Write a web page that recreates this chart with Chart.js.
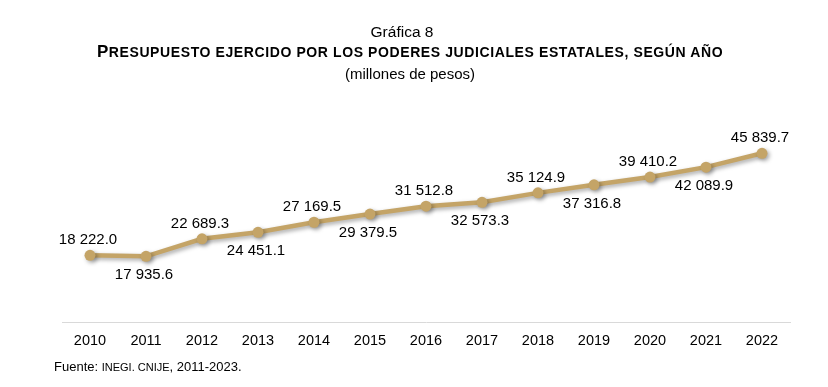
<!DOCTYPE html>
<html>
<head>
<meta charset="utf-8">
<script src="https://cdn.jsdelivr.net/npm/chart.js@4/dist/chart.umd.min.js"></script>
<style>
  html, body { margin: 0; padding: 0; background: #fff; }
  body { width: 828px; height: 387px; position: relative; overflow: hidden; font-family: "Liberation Sans", Arial, sans-serif; color: #000; }
  #wrap { position: absolute; left: 0; top: 0; width: 828px; height: 387px; }
  .t { position: absolute; left: 0; width: 820px; text-align: center; white-space: nowrap; }
  #t1 { top: 23px; font-size: 15.5px; width: 804px; }
  #t2 { top: 42px; font-weight: bold; letter-spacing: 0.6px; }
  #t2 .big { font-size: 17px; }
  #t2 .sm { font-size: 14px; }
  #t3 { top: 65px; font-size: 15px; }
  #foot { position: absolute; left: 54px; top: 359px; font-size: 13px; white-space: nowrap; }
  #foot .sm { font-size: 11px; }
</style>
</head>
<body>
<div id="wrap"><canvas id="c" width="828" height="387"></canvas></div>
<div class="t" id="t1">Gráfica 8</div>
<div class="t" id="t2"><span class="big">P</span><span class="sm">RESUPUESTO EJERCIDO POR LOS PODERES JUDICIALES ESTATALES, SEGÚN AÑO</span></div>
<div class="t" id="t3">(millones de pesos)</div>
<div id="foot">Fuente: <span class="sm">INEGI. CNIJE</span>, 2011-2023.</div>
<script>
const years = ["2010","2011","2012","2013","2014","2015","2016","2017","2018","2019","2020","2021","2022"];
const budget = [18222.0, 17935.6, 22689.3, 24451.1, 27169.5, 29379.5, 31512.8, 32573.3, 35124.9, 37316.8, 39410.2, 42089.9, 45839.7];
const valueLabels = ["18 222.0","17 935.6","22 689.3","24 451.1","27 169.5","29 379.5","31 512.8","32 573.3","35 124.9","37 316.8","39 410.2","42 089.9","45 839.7"];

const LINE_COLOR = "#C4A467";

const shadowPlugin = {
  id: 'shadow',
  beforeDatasetDraw(chart) {
    const ctx = chart.ctx;
    ctx.save();
    ctx.shadowColor = 'rgba(0,0,0,0.35)';
    ctx.shadowBlur = 4;
    ctx.shadowOffsetX = 2;
    ctx.shadowOffsetY = 2;
  },
  afterDatasetDraw(chart) {
    chart.ctx.restore();
  }
};

const labelPlugin = {
  id: 'vlabels',
  afterDatasetsDraw(chart) {
    const ctx = chart.ctx;
    const meta = chart.getDatasetMeta(0);
    ctx.save();
    ctx.font = '15px "Liberation Sans", Arial, sans-serif';
    ctx.fillStyle = '#000';
    ctx.textAlign = 'center';
    ctx.textBaseline = 'middle';
    meta.data.forEach((pt, i) => {
      const above = i % 2 === 0;
      const y = above ? pt.y - 15 : pt.y + 19;
      ctx.fillText(valueLabels[i], pt.x - 2, y);
    });
    ctx.restore();
  }
};

new Chart(document.getElementById('c'), {
  type: 'line',
  data: {
    labels: years,
    datasets: [{
      data: budget,
      borderColor: LINE_COLOR,
      backgroundColor: LINE_COLOR,
      borderWidth: 4.5,
      pointRadius: 5.5,
      pointBackgroundColor: LINE_COLOR,
      pointBorderColor: LINE_COLOR,
      pointBorderWidth: 0,
      tension: 0
    }]
  },
  options: {
    responsive: false,
    animation: false,
    devicePixelRatio: 1,
    layout: { padding: { left: 62, right: 38, top: 101, bottom: 27 } },
    plugins: { legend: { display: false }, tooltip: { enabled: false }, title: { display: false } },
    scales: {
      x: {
        offset: true,
        grid: { display: false, drawTicks: false },
        border: { display: true, color: '#D9D9D9', width: 1 },
        ticks: { color: '#000', padding: 10, font: { family: '"Liberation Sans", Arial, sans-serif', size: 14.5 }, maxRotation: 0, autoSkip: false }
      },
      y: {
        display: false,
        min: 0,
        max: 60000
      }
    }
  },
  plugins: [shadowPlugin, labelPlugin]
});
</script>
</body>
</html>
